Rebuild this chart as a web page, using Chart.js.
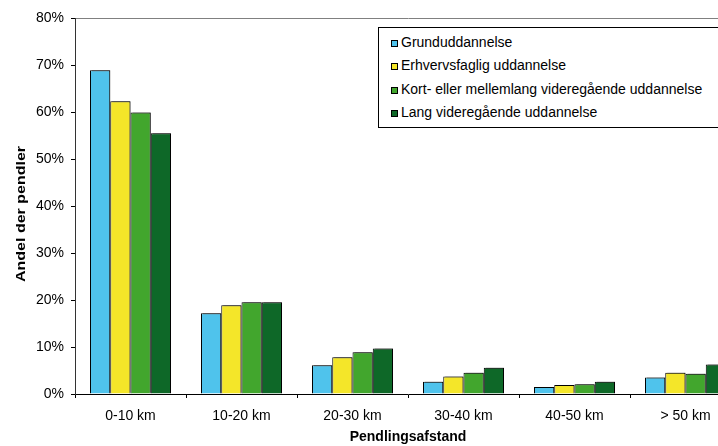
<!DOCTYPE html>
<html>
<head>
<meta charset="utf-8">
<script src="https://cdn.jsdelivr.net/npm/chart.js@4/dist/chart.umd.min.js"></script>
<style>
html,body{margin:0;padding:0;overflow:hidden;background:#fff;width:718px;height:446px;}
#wrap{position:relative;width:760px;height:446px;}
#legend{position:absolute;left:378px;top:27px;width:346px;height:101px;border:1px solid #000;background:#fff;box-sizing:border-box;font-family:"Liberation Sans",Arial,sans-serif;font-size:14px;color:#000;}
.item{position:absolute;left:12px;height:18px;line-height:18px;white-space:nowrap;}
.sw{display:inline-block;width:7px;height:7px;border:1px solid #000;box-sizing:border-box;margin-right:3px;vertical-align:0px;}
</style>
</head>
<body>
<div id="wrap">
<canvas id="c" width="760" height="446"></canvas>
<div id="legend"></div>
</div>
<script>
const categories = ["0-10 km", "10-20 km", "20-30 km", "30-40 km", "40-50 km", "> 50 km"];
const seriesNames = ["Grunduddannelse", "Erhvervsfaglig uddannelse", "Kort- eller mellemlang videregående uddannelse", "Lang videregående uddannelse"];
const grund = [68.9, 17.2, 6.1, 2.6, 1.5, 3.5];
const erhverv = [62.3, 18.9, 7.8, 3.7, 1.9, 4.5];
const kortMellem = [59.9, 19.5, 8.9, 4.5, 2.1, 4.3];
const lang = [55.5, 19.5, 9.7, 5.6, 2.6, 6.3];
const yTicks = [0, 10, 20, 30, 40, 50, 60, 70, 80];
const yTitle = "Andel der pendler";
const xTitle = "Pendlingsafstand";
const colors = ["#4FC3EC", "#F4E629", "#42A62D", "#0E6828"];

const values = [grund, erhverv, kortMellem, lang];
const FONT = "'Liberation Sans', Arial, sans-serif";

const shadowPlugin = {
  id: 'shadow',
  beforeDatasetsDraw(chart) {
    const ctx = chart.ctx;
    ctx.save();
    ctx.shadowColor = 'rgba(0,0,0,0.35)';
    ctx.shadowOffsetX = 2;
    ctx.shadowOffsetY = -1;
    ctx.shadowBlur = 0;
  },
  afterDatasetsDraw(chart) {
    chart.ctx.restore();
  }
};

const yTitlePlugin = {
  id: 'yTitle',
  afterDraw(chart) {
    const ctx = chart.ctx;
    ctx.save();
    ctx.translate(21.5, 214);
    ctx.rotate(-Math.PI / 2);
    ctx.scale(1, 0.8);
    ctx.font = "bold 16px " + FONT;
    ctx.fillStyle = '#000';
    ctx.textAlign = 'center';
    ctx.textBaseline = 'middle';
    ctx.fillText(yTitle, 0, 0);
    ctx.restore();
  }
};

const chart = new Chart(document.getElementById('c'), {
  type: 'bar',
  data: {
    labels: categories,
    datasets: values.map((v, i) => ({
      label: seriesNames[i],
      data: v,
      backgroundColor: colors[i],
      borderColor: '#000',
      borderWidth: 1,
      borderSkipped: 'bottom',
      categoryPercentage: 0.73,
      barPercentage: 1.0
    }))
  },
  options: {
    responsive: false,
    animation: false,
    devicePixelRatio: 1,
    layout: { padding: { left: 13, top: 18, right: 19, bottom: 0 } },
    plugins: { legend: { display: false }, tooltip: { enabled: false } },
    scales: {
      x: {
        grid: { offset: true, drawOnChartArea: false, drawTicks: true, tickLength: 4, tickColor: '#000', color: '#000' },
        border: { display: true, color: '#000', width: 1 },
        ticks: { color: '#000', font: { family: FONT, size: 14 }, padding: 10, maxRotation: 0 },
        title: { display: true, text: xTitle, color: '#000', font: { family: FONT, size: 14, weight: 'bold' }, padding: 0 },
        afterFit(scale) { scale.height = 52; }
      },
      y: {
        min: 0, max: 80,
        afterBuildTicks(scale) { scale.ticks = yTicks.map(v => ({ value: v })); },
        grid: {
          drawOnChartArea: true, drawTicks: true, tickLength: 4, tickColor: '#000',
          color: (ctx) => (ctx.tick && ctx.tick.value === 80) ? '#808080' : 'rgba(0,0,0,0)',
          lineWidth: 1
        },
        border: { display: true, color: '#333', width: 1 },
        ticks: { color: '#000', font: { family: FONT, size: 14 }, padding: 7, callback: (v) => v + '%' },
        title: { display: false },
        afterFit(scale) { scale.width = 62; }
      }
    }
  },
  plugins: [shadowPlugin, yTitlePlugin]
});

const legend = document.getElementById('legend');
seriesNames.forEach((name, i) => {
  const d = document.createElement('div');
  d.className = 'item';
  d.style.top = (5 + 23.3 * i) + 'px';
  const sw = document.createElement('span');
  sw.className = 'sw';
  sw.style.background = colors[i];
  d.appendChild(sw);
  d.appendChild(document.createTextNode(name));
  legend.appendChild(d);
});
</script>
</body>
</html>
